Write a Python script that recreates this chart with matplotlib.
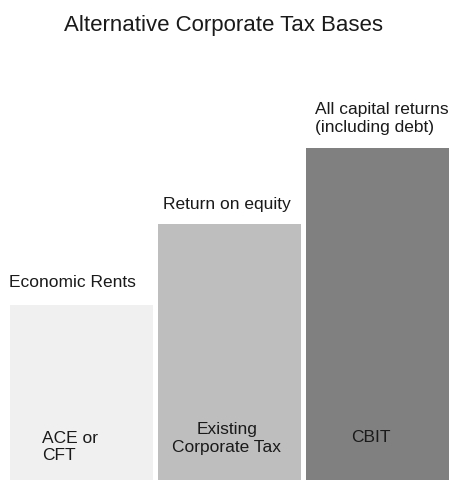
import numpy as np
import matplotlib
matplotlib.use("Agg")
import matplotlib.pyplot as plt

plt.rcParams['font.family'] = ['Liberation Sans', 'DejaVu Sans']

# data (bar heights in arbitrary units)
bases = ["Economic Rents", "Return on equity", "All capital returns\n(including debt)"]
taxes = ["ACE or\nCFT", "Existing\nCorporate Tax", "CBIT"]
heights = [175, 256, 332]
colors = ["#f0f0f0", "#bebebe", "#808080"]

fig = plt.figure(figsize=(4.52, 4.80), dpi=100)
ax = fig.add_axes([0, 0, 1, 1])
x = np.arange(len(heights))
ax.bar(x, heights, width=0.966, color=colors, linewidth=0)
ax.set_xlim(-0.551, 2.503)
ax.set_ylim(0, 480)
ax.axis("off")

txt = "#1a1a1a"
fs = 12.5
# labels above bars (baseline of last line), left aligned near the bar's left edge
top_dx = [-0.49, -0.45, -0.42]
top_gap = [18, 15, 16]
for i in range(len(heights)):
    ax.text(x[i] + top_dx[i], heights[i] + top_gap[i], bases[i], ha="left", va="baseline",
            fontsize=fs, color=txt, linespacing=1.25)

# labels inside bars
ax.text(x[0] - 0.265, 20, taxes[0], ha="left", va="baseline", fontsize=fs, color=txt,
        linespacing=1.16)
ax.text(x[1] - 0.02, 28, taxes[1], ha="center", va="baseline", fontsize=fs, color=txt,
        linespacing=1.22)
ax.text(x[2] - 0.045, 38, taxes[2], ha="center", va="baseline", fontsize=fs, color=txt)

fig.text(223.5 / 452, 1 - 31 / 480, "Alternative Corporate Tax Bases", ha="center",
         va="baseline", fontsize=16, color=txt)

fig.savefig("out.png", dpi=100, facecolor="white")
